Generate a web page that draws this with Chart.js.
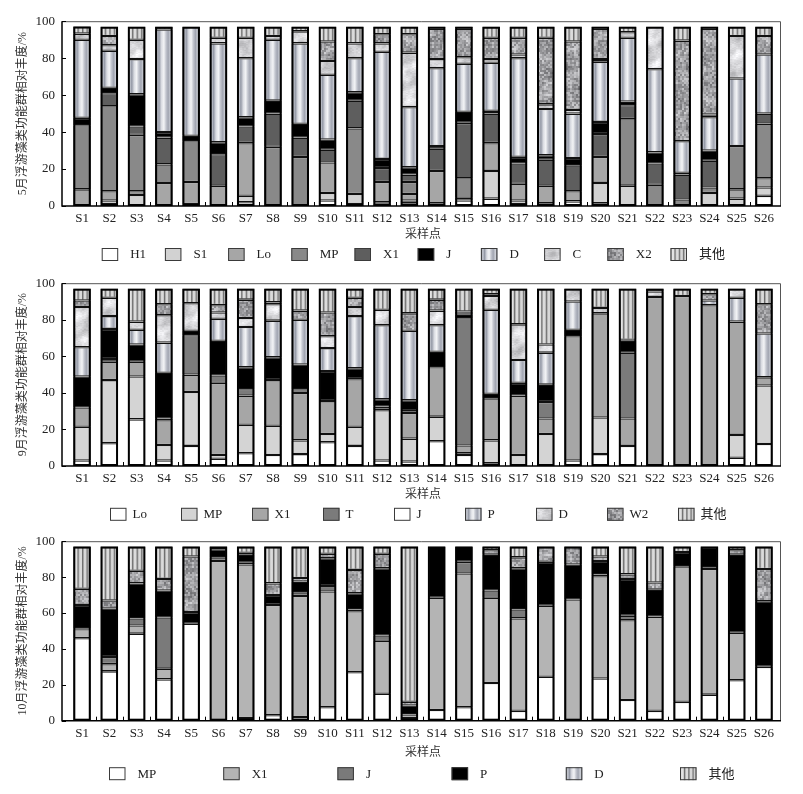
<!DOCTYPE html>
<html><head><meta charset="utf-8">
<script src="https://cdn.jsdelivr.net/npm/chart.js@4.4.1/dist/chart.umd.min.js"></script>
<style>
html,body{margin:0;padding:0;background:#fff;}
body{width:803px;height:794px;overflow:hidden;position:relative;}
canvas{position:absolute;left:0;}
</style>
</head><body>
<canvas id="c1" width="803" height="266" style="top:0px"></canvas>
<canvas id="c2" width="803" height="268" style="top:262px"></canvas>
<canvas id="c3" width="803" height="274" style="top:520px"></canvas>
<script>
// ---------- data ----------
const sites = ['S1','S2','S3','S4','S5','S6','S7','S8','S9','S10','S11','S12','S13','S14','S15','S16','S17','S18','S19','S20','S21','S22','S23','S24','S25','S26'];
const yTicks = [0,20,40,60,80,100];

// May (5月)
const mayGroups = ['H1','S1','Lo','MP','X1','J','D','C','X2','其他'];
const mayH1 = [0,1,0,0,1,0,2,0,0,3,1,1.5,1.5,1.5,3,4,1,1.5,2.5,1.5,0,0,0,0,0,5.5];
const mayS1 = [0,2,6,0,0,0,3.5,0,0,4,5.5,0.5,1.5,0,1.5,15,2,0,0,11,11,0,0,7,4,4.5];
const mayLo = [9,5,2,12.5,12,11,28.5,0,0,16.5,0,11,3.5,17.5,0,15,9,9.5,5.5,14,0,0,0,0,5,5];
const mayMP = [34.7,46,30.5,10,22,0,0,32,26.5,0,35.5,0,6.5,0,10.5,0,0,0,0,0,36,11.5,3.5,3,23.5,29.6];
const mayX1 = [0,7,4.5,14.5,0,17,9,18,10.5,7,15,7.5,4,12,30,16,11,14,14,12.5,7.5,11.5,13.5,14.5,0,5.4];
const mayJ  = [4,3,17.5,3,3,6.5,5,7,7.5,5.5,4.5,5,4,1.5,6,1.5,3.6,2.5,4,6.5,2,6,1,5.5,0,0];
const mayD  = [42.3,20,19,55.5,59,53.5,32,33,43.5,35,18.5,58,32.5,42,26,26,53.4,25,24,32.5,34.5,45,17,18,36.5,32];
const mayC  = [3.3,3,10.5,0,0,3,11,2,6.5,7.5,8,4.5,29.5,5,3.5,2,2,2.5,2,1.5,3,23,0,1.5,23,0];
const mayX2 = [0,5,0,0,0,0,0,0,0,10.5,0,5,10,16.5,15.5,11.5,9,36,37,16.5,0,0,54.5,46.5,0,10];
const mayOther = [3.8,5,7,1.5,0,6,6,5,2.5,8,9,4,4,1,1,6,6,6,8,1,3,0,7.5,1,5,5];

// September (9月)
const sepGroups = ['Lo','MP','X1','T','J','P','D','W2','其他'];
const sepLo = [3,12.5,25.5,3,11,4,7,6,6.5,13,11,3,2.5,13.5,6,1.5,0,0,3,6.5,11,0,0,0,4.5,12];
const sepMP = [18.5,34.5,23.5,8.5,29.5,2,15.5,16,7.5,4.5,10.5,27.5,12.5,13.5,1,12.5,6,17.5,0,20,0,0,0,0,12.5,32];
const sepX1 = [10.5,10,8,13.5,9.5,39.5,16,25,26,18,26,0,14,27,4.2,23,32.5,8.5,68,57,15,92.5,93,88,62,4.5];
const sepT  = [0,1.5,0,1,21.5,4,3.5,0,2,0,0,2,1,0,69.6,0,0,9,0,0,36,0,0,0,0,0];
const sepJ  = [17,16.5,9.5,25,2.5,19,12,12.5,13.5,16.5,6,4,6,8.5,2,2.5,7,9.5,3.5,0,6.5,0,0,0,0,0];
const sepP  = [16,7,8,16.5,0,12,22,20,24.5,12.5,28.5,40.5,38,14.5,0,46,12.5,17.5,15.5,0,0,0,0,2.5,13,24];
const sepD  = [22,10,4.5,15,15,3.5,5,9,0,6.5,5,8.5,0,8,1.7,7.5,19.5,4.5,7,3,0.5,3,0,0,5,0];
const sepW2 = [3.5,0,0,6,0,4,10,1,5,13,5,0,9.5,6,0,1,0,0,0,0,0,1.5,0,3.5,0,16];
const sepOther = [6.5,5,18,8.5,8,9,6,7.5,12,13,5,11.5,13.5,6,12.5,3,19.5,30.5,0,10.5,28,0,4,3,0,8.5];

// October (10月)
const octGroups = ['MP','X1','J','P','D','其他'];
const octMP = [46,27.5,48.5,23,54,0,1.5,3,2,7.5,27,15,1.5,6,7.5,21,5.5,24.5,0,23.5,11.5,5.5,10.5,14.5,22.5,30];
const octX1 = [5,4,4.5,6,0,89,85.5,61.5,67.5,64.5,34,29.5,2,62.5,74.5,47.5,51.5,39.5,67.5,57,44.5,52.5,75.5,70,26.5,0];
const octJ  = [0.5,4,4,28.5,0,2,1,0,2,3,1,3,0,0,6.5,4,5,0,0,1,2.5,0,0,1,0,0];
const octP  = [13,27,19.5,15,6.5,4.5,4.5,5.5,6,15.5,9,37.5,5,28.5,8.5,20,23,24.5,19.5,7.5,20.5,15,8,11,43.5,36.5];
const octD  = [9,4.5,7,6.5,31,0,1,6.5,2,2.5,13,8,2,0,0,2.5,6,8.5,10,2.5,2.5,4,0,0,2.5,18];
const octOther = [23.5,30,13.5,18,5.5,1.5,3.5,20.5,17.5,4,13,4,86.5,0,0,2,6,0,0,5.5,15.5,20,3,0.5,2,12.5];

// ---------- styling ----------
const FONT = '"Liberation Serif", "Noto Sans CJK SC", serif';
const TXT = '#222';
const BAR_PCT = 0.64;

function hash(x, y) {
  const s = Math.sin(x * 12.9898 + y * 78.233) * 43758.5453;
  return s - Math.floor(s);
}
function makeMarble(dark) {
  const N = 60, a = 2 * Math.PI / N;
  const cv = document.createElement('canvas'); cv.width = N; cv.height = N;
  const g = cv.getContext('2d'); const img = g.createImageData(N, N);
  for (let y = 0; y < N; y++) for (let x = 0; x < N; x++) {
    const s = 0.5 * Math.sin(a * (x + 2 * y) + 1.0)
            + 0.35 * Math.sin(a * (3 * x - y) + 2.3 + 0.8 * Math.sin(a * 2 * y))
            + 0.25 * Math.sin(a * (2 * x + 5 * y) + 0.7)
            + 0.15 * Math.sin(a * (7 * x + 3 * y) + 4.1);
    let v;
    if (dark) {
      const n = hash(Math.floor(x / 2), Math.floor(y / 2));
      v = 160 + 18 * s + 72 * (n - 0.5);
    } else {
      const n = hash(Math.floor(x / 2), y);
      v = 214 + 30 * s + 16 * (n - 0.5);
    }
    v = Math.max(0, Math.min(255, v));
    const i = (y * N + x) * 4;
    img.data[i] = v; img.data[i + 1] = v; img.data[i + 2] = Math.min(255, v + 3); img.data[i + 3] = 255;
  }
  g.putImageData(img, 0, 0);
  return cv;
}
const marbleL = makeMarble(false);
const marbleD = makeMarble(true);

const cylStops = [[0,'#8e929e'],[0.12,'#c5c8d0'],[0.22,'#9499a6'],[0.36,'#dadce2'],[0.5,'#f3f4f6'],[0.62,'#c3c6cf'],[0.75,'#a1a5b1'],[0.88,'#d0d3da'],[1,'#858a97']];
const stripeStops = [[0,'#8a8a8a'],[0.1,'#e6e6e6'],[0.2,'#e0e0e0'],[0.27,'#707070'],[0.37,'#dcdcdc'],[0.47,'#dadada'],[0.53,'#6a6a6a'],[0.63,'#d8d8d8'],[0.72,'#d6d6d6'],[0.79,'#747474'],[0.9,'#e2e2e2'],[1,'#8f8f8f']];
const fallbackColor = { cyl: '#c4c7cf', stripe: '#aaaaaa', marbleL: '#d8d8d8', marbleD: '#9e9e9e' };

function fillFor(kind, ctx, x0, x1) {
  if (kind === 'cyl' || kind === 'stripe') {
    if (!isFinite(x0) || !isFinite(x1) || x1 <= x0) return fallbackColor[kind];
    const gr = ctx.createLinearGradient(x0, 0, x1, 0);
    (kind === 'cyl' ? cylStops : stripeStops).forEach(s => gr.addColorStop(s[0], s[1]));
    return gr;
  }
  if (kind === 'marbleL') return ctx.createPattern(marbleL, 'repeat');
  if (kind === 'marbleD') return ctx.createPattern(marbleD, 'repeat');
  return kind;
}

// ---------- panels ----------
const panels = [
  { id:'c1', canvasTop:0, h:266, areaTop:18, areaBottom:206, titleY:235, legendY:254.5, legendX0:101.7, step:63.2, gap:12,
    yTitle:'5月浮游藻类功能群相对丰度/%', groups:mayGroups,
    series:[mayH1,mayS1,mayLo,mayMP,mayX1,mayJ,mayD,mayC,mayX2,mayOther],
    kinds:['#ffffff','#d2d2d2','#a6a6a6','#898989','#5e5e5e','#000000','cyl','marbleL','marbleD','stripe'],
    legendKinds:{} },
  { id:'c2', canvasTop:262, h:268, areaTop:278.3, areaBottom:466, titleY:494.5, legendY:514.3, legendX0:110, step:71, gap:6,
    yTitle:'9月浮游藻类功能群相对丰度/%', groups:sepGroups,
    series:[sepLo,sepMP,sepX1,sepT,sepJ,sepP,sepD,sepW2,sepOther],
    kinds:['#ffffff','#d4d4d4','#a6a6a6','#7b7b7b','#000000','cyl','marbleL','marbleD','stripe'],
    legendKinds:{4:'#ffffff'} },
  { id:'c3', canvasTop:520, h:274, areaTop:532.7, areaBottom:720.7, titleY:752.5, legendY:773.7, legendX0:109, step:114.2, gap:12,
    yTitle:'10月浮游藻类功能群相对丰度/%', groups:octGroups,
    series:[octMP,octX1,octJ,octP,octD,octOther],
    kinds:['#ffffff','#b4b4b4','#7a7a7a','#000000','marbleD','stripe'],
    legendKinds:{4:'cyl'} }
];

const decor = {
  id:'decor',
  afterDatasetsDraw(chart) {
    const ctx = chart.ctx;
    const n = sites.length;
    ctx.save();
    ctx.strokeStyle = '#000'; ctx.lineWidth = 2;
    for (let i = 0; i < n; i++) {
      let top = Infinity, bot = -Infinity, x = 0, w = 0;
      chart.data.datasets.forEach((ds, di) => {
        if (ds.data[i] == null) return;
        const el = chart.getDatasetMeta(di).data[i];
        if (!el) return;
        const p = el.getProps(['x','y','base','width'], true);
        top = Math.min(top, p.y, p.base); bot = Math.max(bot, p.y, p.base);
        x = p.x; w = p.width;
      });
      if (top < bot) ctx.strokeRect(x - w / 2 + 1, top + 1, w - 2, bot - top - 2);
    }
    ctx.restore();
  },
  afterDraw(chart) {
    const cfg = chart.options.plugins.decor;
    const ctx = chart.ctx, a = chart.chartArea;
    const xs = chart.scales.x, ys = chart.scales.y;
    const fl = a.left - 6.4, fr = a.right + 2.4;
    ctx.save();
    ctx.strokeStyle = '#555'; ctx.lineWidth = 1;
    ctx.beginPath(); ctx.moveTo(fl, a.top + 0.5); ctx.lineTo(fr + 0.5, a.top + 0.5); ctx.lineTo(fr + 0.5, a.bottom); ctx.stroke();
    ctx.strokeStyle = '#000'; ctx.lineWidth = 1.5;
    ctx.beginPath(); ctx.moveTo(fl, a.top); ctx.lineTo(fl, a.bottom); ctx.lineTo(fr + 1, a.bottom); ctx.stroke();
    ctx.lineWidth = 1;
    yTicks.forEach(v => { const py = Math.round(ys.getPixelForValue(v)) + 0.5; ctx.beginPath(); ctx.moveTo(fl, py); ctx.lineTo(fl + 4, py); ctx.stroke(); });
    for (let i = 0; i < sites.length - 1; i++) {
      const px = Math.round((xs.getPixelForValue(i) + xs.getPixelForValue(i + 1)) / 2) + 0.5;
      ctx.beginPath(); ctx.moveTo(px, a.bottom); ctx.lineTo(px, a.bottom - 4); ctx.stroke();
    }
    const ly = cfg.legendY - cfg.canvasTop;
    ctx.font = '13px ' + FONT; ctx.textBaseline = 'middle'; ctx.textAlign = 'left';
    cfg.groups.forEach((g, i) => {
      const bx = cfg.legendX0 + i * cfg.step, bw = 16.5, bh = 13;
      const kind = cfg.legendKinds[i] !== undefined ? cfg.legendKinds[i] : cfg.kinds[i];
      ctx.fillStyle = fillFor(kind, ctx, bx, bx + bw);
      ctx.fillRect(bx, ly - bh / 2, bw, bh);
      ctx.strokeStyle = '#3a3a3a'; ctx.lineWidth = 1;
      ctx.strokeRect(bx + 0.5, ly - bh / 2 + 0.5, bw - 1, bh - 1);
      ctx.fillStyle = TXT;
      ctx.fillText(g, bx + bw + cfg.gap, ly + 0.5);
    });
    ctx.restore();
  }
};

panels.forEach(p => {
  const datasets = p.groups.map((g, gi) => ({
    label: g,
    data: p.series[gi].map(v => v === 0 ? null : v),
    backgroundColor: (c) => {
      const kind = p.kinds[gi];
      if (kind.charAt(0) === '#') return kind;
      const xs = c.chart.scales && c.chart.scales.x;
      if (c.type !== 'data' || !xs) return fallbackColor[kind];
      const cx = xs.getPixelForValue(c.dataIndex);
      const w = xs.width / sites.length * BAR_PCT;
      return fillFor(kind, c.chart.ctx, cx - w / 2, cx + w / 2);
    },
    borderColor: '#111',
    borderWidth: 1.3,
    borderSkipped: false,
    barPercentage: BAR_PCT,
    categoryPercentage: 1
  }));
  const xH = p.h - (p.areaBottom - p.canvasTop);
  const pb = p.h - (p.titleY - p.canvasTop) - 7.2;
  new Chart(document.getElementById(p.id), {
    type: 'bar',
    data: { labels: sites, datasets },
    options: {
      responsive: false,
      animation: false,
      layout: { padding: { top: p.areaTop - p.canvasTop, right: 803 - 777.6, left: 0, bottom: 0 } },
      plugins: { legend: { display: false }, tooltip: { enabled: false }, decor: p },
      scales: {
        x: {
          stacked: true,
          grid: { display: false, drawTicks: false },
          border: { display: false },
          ticks: { font: { family: FONT, size: 13 }, color: TXT, padding: 5, maxRotation: 0, autoSkip: false },
          title: { display: true, text: '采样点', font: { family: FONT, size: 12 }, color: '#333', padding: { top: 0, bottom: pb } },
          afterFit: (s) => { s.height = xH; }
        },
        y: {
          stacked: true, min: 0, max: 100,
          afterBuildTicks: (s) => { s.ticks = yTicks.map(v => ({ value: v })); },
          grid: { display: false, drawTicks: false },
          border: { display: false },
          ticks: { font: { family: FONT, size: 13 }, color: TXT, padding: 13.4 },
          title: { display: true, text: p.yTitle, font: { family: FONT, size: 12 }, color: '#333', padding: { top: 16, bottom: 0 } },
          afterFit: (s) => { s.width = 68.4; }
        }
      }
    },
    plugins: [decor]
  });
});
</script>
</body></html>
